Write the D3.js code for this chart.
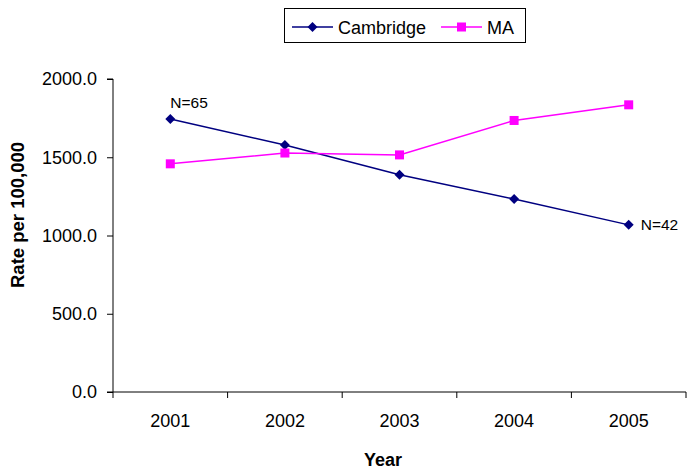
<!DOCTYPE html>
<html><head><meta charset="utf-8">
<script src="https://cdn.jsdelivr.net/npm/d3@7"></script>
<style>body{margin:0;background:#fff}svg{display:block}text{font-family:"Liberation Sans",Arial,sans-serif}</style>
</head><body>
<svg id="c" width="694" height="472"></svg>
<script>
const years = ["2001","2002","2003","2004","2005"];
const cambridge = [1745, 1578, 1388, 1233, 1068];
const ma = [1458, 1527, 1515, 1735, 1835];
const yTicks = [0, 500, 1000, 1500, 2000];
const seriesNames = ["Cambridge","MA"];
const seriesColors = ["#000080","#FF00FF"];
const annotations = [{series:0, idx:0, text:"N=65", pos:"above"},{series:0, idx:4, text:"N=42", pos:"right"}];

const svg = d3.select("#c");
const L = 113, R = 686, T = 79, B = 392;
const x = d3.scaleBand().domain(years).range([L, R]);
const y = d3.scaleLinear().domain([0, 2000]).range([B, T]);

// y axis
const ya = svg.append("g").attr("transform", `translate(${L},0)`)
  .call(d3.axisLeft(y).tickValues(yTicks).tickFormat(d3.format(".1f")).tickSize(6).tickPadding(10));
ya.select(".domain").attr("d", `M-6,${B}H0V${T}H-6`).attr("stroke","#000");
ya.selectAll("text").attr("font-size", 18).attr("fill","#000").attr("font-family","Liberation Sans, Arial");
ya.selectAll("line").attr("stroke","#000");

// x axis
const xa = svg.append("g").attr("transform", `translate(0,${B})`);
xa.append("line").attr("x1", L).attr("x2", R).attr("y1", 0).attr("y2", 0).attr("stroke","#000");
const edges = years.map(d => x(d)).concat([R]);
xa.selectAll("line.t").data(edges).enter().append("line").attr("class","t")
  .attr("x1", d => d).attr("x2", d => d).attr("y1", 0).attr("y2", 6).attr("stroke","#000");
xa.selectAll("text").data(years).enter().append("text")
  .attr("x", d => x(d) + x.bandwidth()/2).attr("y", 35)
  .attr("text-anchor","middle").attr("font-size", 18).text(d => d);

// axis titles
svg.append("text").attr("x", 383).attr("y", 466).attr("text-anchor","middle")
  .attr("font-weight","bold").attr("font-size", 18).text("Year");
svg.append("text").attr("transform", `translate(24,215) rotate(-90)`)
  .attr("text-anchor","middle").attr("font-weight","bold").attr("font-size", 18.5).text("Rate per 100,000");

const cx = d => x(d) + x.bandwidth()/2;
const line = d3.line().x((d,i) => cx(years[i])).y(d => y(d));
const data = [cambridge, ma];
data.forEach((vals, s) => {
  svg.append("path").attr("d", line(vals)).attr("fill","none").attr("stroke", seriesColors[s]).attr("stroke-width", 1.5);
});
// markers
const diamond = (g, px, py) => g.append("path").attr("d", `M${px},${py-5}L${px+5},${py}L${px},${py+5}L${px-5},${py}Z`).attr("fill", seriesColors[0]);
const square = (g, px, py) => g.append("rect").attr("x", px-4.5).attr("y", py-4.5).attr("width", 9).attr("height", 9).attr("fill", seriesColors[1]);
cambridge.forEach((v,i) => diamond(svg, cx(years[i]), y(v)));
ma.forEach((v,i) => square(svg, cx(years[i]), y(v)));

annotations.forEach(a => {
  const v = data[a.series][a.idx], px = cx(years[a.idx]), py = y(v);
  const t = svg.append("text").attr("font-size", 15.5).text(a.text);
  if (a.pos === "above") t.attr("x", px).attr("y", py - 11);
  else t.attr("x", px + 12).attr("y", py + 5);
});

// legend
const lg = svg.append("g");
lg.append("rect").attr("x", 284.5).attr("y", 8.5).attr("width", 241).attr("height", 34).attr("fill","#fff").attr("stroke","#000");
const lx = [292, 441];
seriesNames.forEach((n, s) => {
  lg.append("line").attr("x1", lx[s]).attr("x2", lx[s]+41).attr("y1", 27).attr("y2", 27).attr("stroke", seriesColors[s]).attr("stroke-width", 1.5);
  if (s === 0) diamond(lg, lx[s]+20.5, 27); else square(lg, lx[s]+20.5, 27);
  lg.append("text").attr("x", lx[s]+46).attr("y", 33.5).attr("font-size", 18).text(n);
});
</script>
</body></html>
